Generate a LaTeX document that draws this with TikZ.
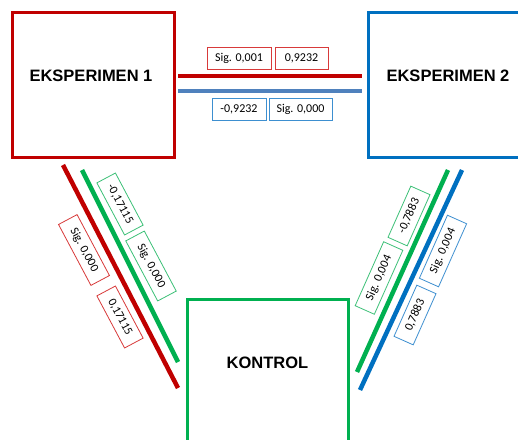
\documentclass[tikz,border=0pt]{standalone}
\usepackage{fontspec}
\setmainfont{Liberation Sans}
\newfontfamily\lblfont{Carlito}
\definecolor{cred}{HTML}{C00000}
\definecolor{cblue}{HTML}{0070C0}
\definecolor{cgreen}{HTML}{00B050}
\definecolor{csteel}{HTML}{4F81BD}
\definecolor{lred}{HTML}{D83A3A}
\definecolor{lblue}{HTML}{3D8FD0}
\definecolor{lgreen}{HTML}{3CC077}
\begin{document}
\begin{tikzpicture}[x=1pt,y=-1pt,
  bigbox/.style={draw,line width=3pt,inner sep=0pt},
  bigtxt/.style={font=\fontsize{16.5}{18}\selectfont\bfseries},
  lbl/.style={draw,line width=0.8pt,fill=white,font=\lblfont\fontsize{12}{13}\selectfont,inner xsep=5pt,minimum height=22pt,inner ysep=0pt},
  conn/.style={line width=4.5pt}]
\useasboundingbox (0,0) rectangle (518,439);
\begin{scope}
\clip (0,0) rectangle (518,439);
% boxes
\node[bigbox,draw=cred,minimum width=162pt,minimum height=145pt] (e1) at (93,84.5) {};
\node[bigbox,draw=cblue,minimum width=170pt,minimum height=145pt] (e2) at (453,84.5) {};
\node[bigbox,draw=cgreen,minimum width=161pt,minimum height=160pt] (k) at (267.5,379) {};
\node[bigtxt] (t1) at (91,76) {EKSPERIMEN 1};
\node[bigtxt] (t2) at (448,76) {EKSPERIMEN 2};
\node[bigtxt] (t3) at (267.5,363) {KONTROL};
% connector end points
\coordinate (h1a) at (178,76);  \coordinate (h1b) at (362,76);
\coordinate (h2a) at (178,91);  \coordinate (h2b) at (362,91);
\coordinate (l1a) at (63,165);  \coordinate (l1b) at (178,388);
\coordinate (l2a) at (82,170);  \coordinate (l2b) at (178,362);
\coordinate (r1a) at (448,170); \coordinate (r1b) at (357,372);
\coordinate (r2a) at (462,170); \coordinate (r2b) at (360,390);
\draw[conn,cred] (h1a) -- (h1b);
\draw[conn,csteel] (h2a) -- (h2b);
\draw[conn,cred] (l1a) -- (l1b);
\draw[conn,cgreen] (l2a) -- (l2b);
\draw[conn,cgreen] (r1a) -- (r1b);
\draw[conn,cblue] (r2a) -- (r2b);
% horizontal labels
\node[lbl,draw=lred,minimum width=64pt] (a1) at (239,58) {Sig. 0,001};
\node[lbl,draw=lred,minimum width=53pt] (a2) at (301.5,58) {0,9232};
\node[lbl,draw=lblue,minimum width=54pt] (b1) at (239,109.5) {-0,9232};
\node[lbl,draw=lblue,minimum width=63pt] (b2) at (300.5,109.5) {Sig. 0,000};
% left labels
\node[lbl,draw=lgreen,rotate=-62,minimum width=59pt,minimum height=21pt] (c1) at (120,204) {-0,17115};
\node[lbl,draw=lgreen,rotate=-62,minimum width=68pt,minimum height=21pt] (c2) at (151,266) {Sig. 0,000};
\node[lbl,draw=lred,rotate=-62,minimum width=69pt,minimum height=21pt] (c3) at (84,250) {Sig. 0,000};
\node[lbl,draw=lred,rotate=-62,minimum width=59pt,minimum height=21pt] (c4) at (120,317) {0,17115};
% right labels
\node[lbl,draw=lgreen,rotate=66,minimum width=56pt,minimum height=21pt] (d1) at (409,216) {-0,7883};
\node[lbl,draw=lgreen,rotate=66,minimum width=70pt,minimum height=21pt] (d2) at (379,278) {Sig. 0,004};
\node[lbl,draw=lblue,rotate=66,minimum width=69pt,minimum height=21pt] (d3) at (443,251) {Sig. 0,004};
\node[lbl,draw=lblue,rotate=66,minimum width=56pt,minimum height=21pt] (d4) at (415,315) {0,7883};
\end{scope}
\end{tikzpicture}
\end{document}
